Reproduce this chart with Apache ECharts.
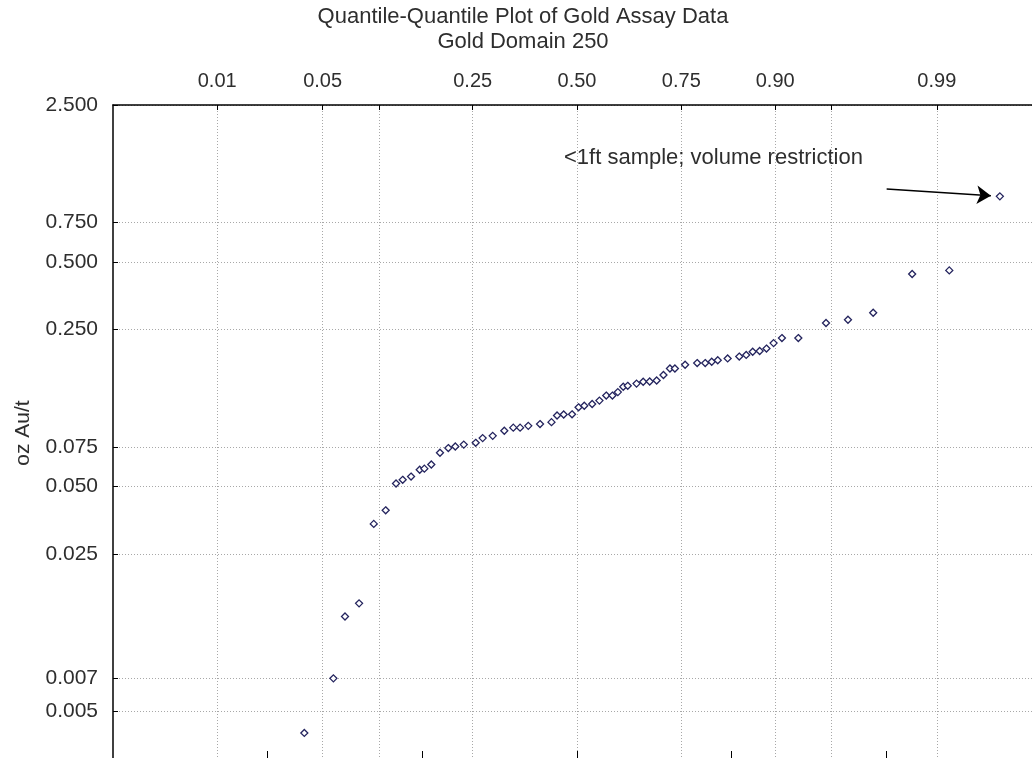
<!DOCTYPE html>
<html>
<head>
<meta charset="utf-8">
<title>Quantile-Quantile Plot of Gold Assay Data</title>
<script src="https://cdn.jsdelivr.net/npm/echarts@6/dist/echarts.min.js"></script>
<style>
  html, body { margin: 0; padding: 0; background: #ffffff; }
  #chart { width: 1032px; height: 758px; }
</style>
</head>
<body>
<div id="chart"></div>
<script>
// Theoretical standard-normal quantile of each ranked sample
const quantiles = [
  -1.763, -1.575, -1.500, -1.409, -1.314, -1.237, -1.170, -1.127, -1.073, -1.017,
  -0.987, -0.942, -0.886, -0.832, -0.787, -0.732, -0.655, -0.610, -0.545, -0.470,
  -0.412, -0.368, -0.315, -0.239, -0.165, -0.129, -0.086, -0.032, 0.010, 0.047,
  0.098, 0.145, 0.189, 0.229, 0.264, 0.299, 0.328, 0.385, 0.428, 0.470,
  0.515, 0.559, 0.601, 0.633, 0.699, 0.777, 0.829, 0.871, 0.910, 0.974,
  1.049, 1.094, 1.136, 1.181, 1.225, 1.271, 1.325, 1.431, 1.610, 1.752,
  1.915, 2.167, 2.407, 2.734
];

// Gold grade of each ranked sample, oz Au/t
const assays = [
  0.0040, 0.0070, 0.0132, 0.0151, 0.0341, 0.0392, 0.0516, 0.0536, 0.0554, 0.0594,
  0.0601, 0.0627, 0.0707, 0.0742, 0.0754, 0.0769, 0.0783, 0.0822, 0.0841, 0.0886,
  0.0915, 0.0915, 0.0932, 0.0949, 0.0968, 0.1036, 0.1047, 0.1049, 0.1127, 0.1145,
  0.1166, 0.1207, 0.1271, 0.1271, 0.1317, 0.1391, 0.1405, 0.1437, 0.1464, 0.1468,
  0.1483, 0.1570, 0.1678, 0.1678, 0.1743, 0.1774, 0.1774, 0.1798, 0.1826, 0.1860,
  0.1896, 0.1928, 0.1992, 0.2008, 0.2058, 0.2177, 0.2292, 0.2292, 0.2674, 0.2766,
  0.2972, 0.4420, 0.4586, 0.9800
];

// Cumulative probabilities marked along the top axis (blank = grid line only)
const probTicks  = [0.01, 0.05, 0.10, 0.25, 0.50, 0.75, 0.90, 0.95, 0.99];
const probLabels = ['0.01', '0.05', '', '0.25', '0.50', '0.75', '0.90', '', '0.99'];

// Grade ticks on the logarithmic value axis
const gradeTicks = [2.5, 0.75, 0.5, 0.25, 0.075, 0.05, 0.025, 0.007, 0.005];

// Standard-normal ticks on the bottom axis
const normalTicks = [-2, -1, 0, 1, 2];

// Annotation: text anchor and arrow from the note to the short sample
const noteText = '<1ft sample; volume restriction';
const noteAnchor = [-0.084, 1.458];
const arrowFrom = [2.002, 1.057];
const arrowTo = [2.676, 0.987];

// Inverse of the standard normal CDF (Acklam's rational approximation)
function normInv(p) {
  const a = [-3.969683028665376e+01, 2.209460984245205e+02, -2.759285104469687e+02,
             1.383577518672690e+02, -3.066479806614716e+01, 2.506628277386002e+00];
  const b = [-5.447609879822406e+01, 1.615858368580409e+02, -1.556989798598866e+02,
             6.680131188771972e+01, -1.328068155288572e+01];
  const c = [-7.784894002430293e-03, -3.223964580411365e-01, -2.400758277161838e+00,
             -2.549732539343734e+00, 4.374664141464968e+00, 2.938163982698783e+00];
  const d = [7.784695709041462e-03, 3.224671290700398e-01, 2.445134137142996e+00,
             3.754408661907416e+00];
  const pl = 0.02425, ph = 1 - pl;
  let q, r;
  if (p < pl) {
    q = Math.sqrt(-2 * Math.log(p));
    return (((((c[0]*q+c[1])*q+c[2])*q+c[3])*q+c[4])*q+c[5]) /
           ((((d[0]*q+d[1])*q+d[2])*q+d[3])*q+1);
  }
  if (p > ph) {
    q = Math.sqrt(-2 * Math.log(1 - p));
    return -(((((c[0]*q+c[1])*q+c[2])*q+c[3])*q+c[4])*q+c[5]) /
            ((((d[0]*q+d[1])*q+d[2])*q+d[3])*q+1);
  }
  q = p - 0.5; r = q * q;
  return (((((a[0]*r+a[1])*r+a[2])*r+a[3])*r+a[4])*r+a[5]) * q /
         (((((b[0]*r+b[1])*r+b[2])*r+b[3])*r+b[4])*r+1);
}

const probZ = probTicks.map(p => (p === 0.5 ? 0 : normInv(p)));
const labelZ = probZ.filter((z, i) => probLabels[i] !== '');
const points = quantiles.map((z, i) => [z, assays[i]]);

const FONT = 'Liberation Sans, Arial, sans-serif';
const TEXT = '#2e2e2e';
const GRID_LINE = { show: true, lineStyle: { color: '#a8a8a8', width: 1, type: [1, 2] } };

const chart = echarts.init(document.getElementById('chart'), null, { renderer: 'canvas' });

chart.setOption({
  animation: false,
  backgroundColor: '#ffffff',
  graphic: [
    {
      type: 'text', x: 523, y: 4,
      style: {
        text: 'Quantile-Quantile Plot of Gold Assay Data\nGold Domain 250',
        font: '22px ' + FONT, fill: TEXT, textAlign: 'center', lineHeight: 25
      }
    }
  ],
  grid: { left: 113, top: 105, right: -9, bottom: -3, containLabel: false, outerBoundsMode: 'none' },
  xAxis: [
    {
      type: 'value', position: 'top', min: -3, max: 3,
      axisLine: { show: true, onZero: false, lineStyle: { color: '#000', width: 1.5 } },
      axisTick: { show: true, inside: true, length: 5, customValues: probZ, lineStyle: { color: '#000' } },
      axisLabel: {
        show: true, customValues: labelZ, margin: 14, color: TEXT, fontFamily: FONT, fontSize: 20,
        formatter: v => {
          let best = 0;
          probZ.forEach((z, i) => { if (Math.abs(z - v) < Math.abs(probZ[best] - v)) best = i; });
          return probLabels[best];
        }
      },
      splitLine: GRID_LINE
    },
    {
      type: 'value', position: 'bottom', min: -3, max: 3,
      axisLine: { show: false, onZero: false },
      axisTick: { show: true, inside: true, length: 10, customValues: normalTicks, lineStyle: { color: '#000' } },
      axisLabel: { show: false },
      splitLine: { show: false }
    }
  ],
  yAxis: {
    type: 'log', logBase: 10, min: 0.003, max: 2.5,
    name: 'oz Au/t', nameLocation: 'middle', nameRotate: 90, nameGap: 79,
    nameTextStyle: { color: TEXT, fontFamily: FONT, fontSize: 21 },
    axisLine: { show: true, onZero: false, lineStyle: { color: '#000', width: 1.5 } },
    axisTick: { show: true, inside: true, length: 5, customValues: gradeTicks, lineStyle: { color: '#000' } },
    axisLabel: {
      customValues: gradeTicks, margin: 15, color: TEXT, fontFamily: FONT, fontSize: 21,
      formatter: v => Number(v).toFixed(3)
    },
    minorTick: { show: false },
    splitLine: GRID_LINE
  },
  series: [
    {
      type: 'scatter',
      xAxisIndex: 1,
      data: points,
      symbol: 'diamond',
      symbolSize: 7,
      itemStyle: { color: '#ffffff', borderColor: '#24245e', borderWidth: 1.3, opacity: 1 },
      silent: true,
      markLine: {
        silent: true,
        symbol: ['none', 'arrow'],
        symbolSize: 14,
        label: { show: false },
        lineStyle: { color: '#000000', width: 1.5, type: 'solid' },
        data: [[{ coord: arrowFrom }, { coord: arrowTo }]]
      },
      markPoint: {
        silent: true,
        symbol: 'circle',
        symbolSize: 0,
        data: [{ coord: noteAnchor, value: noteText }],
        label: {
          show: true, position: 'right', distance: 0,
          formatter: noteText, color: TEXT, fontFamily: FONT, fontSize: 22
        }
      }
    }
  ]
});
</script>
</body>
</html>
